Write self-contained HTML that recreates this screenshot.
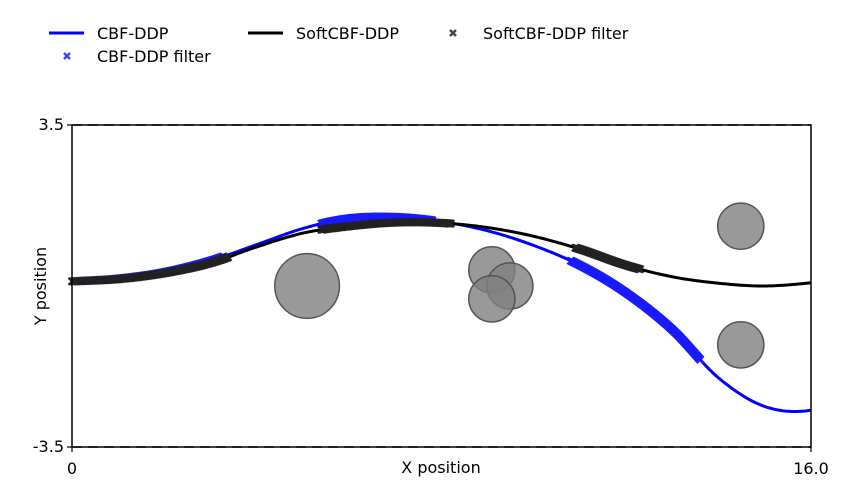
<!DOCTYPE html>
<html><head><meta charset="utf-8"><style>
html,body{margin:0;padding:0;background:#fff;width:849px;height:502px;overflow:hidden}
text{font-family:"DejaVu Sans","Liberation Sans",sans-serif;font-size:16px;fill:#000}
</style></head><body>
<svg id="chart" width="849" height="502" xmlns="http://www.w3.org/2000/svg">
<g>
 <line x1="49" y1="33" x2="84" y2="33" stroke="#0000ff" stroke-width="3"/>
 <text x="97" y="39" font-size="15">CBF-DDP</text>
 <line x1="248" y1="33" x2="283" y2="33" stroke="#000" stroke-width="3"/>
 <text x="296" y="39" font-size="15">SoftCBF-DDP</text>
 <path d="M450,30L456,36M450,36L456,30" stroke="#444" stroke-width="2.5"/>
 <text x="483" y="39" font-size="15.3">SoftCBF-DDP filter</text>
 <path d="M64,53L70,59M64,59L70,53" stroke="#4444ff" stroke-width="2.5"/>
 <text x="97" y="62" font-size="15.3">CBF-DDP filter</text>
</g>
<g id="plot"></g>
</svg>
<script>
const xs=[0,1,2,3,4,5,6,7,8,9,10,11,12,13,14,15,16,17];
const cbfY=[0.1,0.16,0.3,0.55,0.9,1.25,1.47,1.5,1.4,1.2,0.88,0.45,-0.15,-0.95,-2.0,-2.62,-2.7,-2.3];
const softY=[0.1,0.15,0.28,0.5,0.85,1.15,1.3,1.38,1.37,1.27,1.08,0.8,0.45,0.2,0.06,0.0,0.07,0.2];
const cbfFilterRanges=[[0.2,3.3],[5.4,7.8],[10.8,13.6]];
const softFilterRanges=[[0,3.4],[5.4,8.2],[10.9,12.3]];
const obsX=[5.09,9.09,9.48,9.09,14.48,14.48];
const obsY=[0,0.35,0,-0.28,1.3,-1.28];
const obsR=[0.7,0.5,0.5,0.5,0.5,0.5];
const xTicks=[0,16];const xTickLabels=["0","16.0"];
const yTicks=[3.5,-3.5];const yTickLabels=["3.5","-3.5"];
const X0=72,X1=811,Y0=125,Y1=447;
const sx=v=>X0+(v-0)/16*(X1-X0);
const sy=v=>Y1-(v+3.5)/7*(Y1-Y0);
const NS='http://www.w3.org/2000/svg';
const g=document.getElementById('plot');
function mk(t,a,p){const e=document.createElementNS(NS,t);for(const k in a)e.setAttribute(k,a[k]);(p||g).appendChild(e);return e;}
function catmull(ys,x){let i=0;while(i<xs.length-2&&x>xs[i+1])i++;
const t=(x-xs[i])/(xs[i+1]-xs[i]);const p0=ys[i-1]!==undefined?ys[i-1]:2*ys[i]-ys[i+1],p1=ys[i],p2=ys[i+1],p3=ys[i+2]!==undefined?ys[i+2]:2*ys[i+1]-ys[i];
return 0.5*((2*p1)+(-p0+p2)*t+(2*p0-5*p1+4*p2-p3)*t*t+(-p0+3*p1-3*p2+p3)*t*t*t);}
function pathD(ys){let d='';for(let x=0;x<=16.0001;x+=0.05){d+=(d?'L':'M')+sx(x).toFixed(2)+','+sy(catmull(ys,x)).toFixed(2);}return d;}
for(let i=0;i<obsX.length;i++){const c=mk('circle',{cx:sx(obsX[i]),cy:sy(obsY[i]),r:obsR[i]*(X1-X0)/16,fill:'#808080','fill-opacity':0.8,stroke:'#555','stroke-width':1.5});

}
const l1=mk('path',{d:pathD(cbfY),fill:'none',stroke:'#0000ff','stroke-width':3});


const l2=mk('path',{d:pathD(softY),fill:'none',stroke:'#000','stroke-width':3});


function markers(ranges,ys,col,name){const gg=mk('g',{stroke:col,'stroke-width':2.2});


ranges.forEach(r=>{for(let x=r[0];x<=r[1];x+=0.02){const px=sx(x),py=sy(catmull(ys,x));const s=3.5;
mk('path',{d:`M${px-s},${py-s}L${px+s},${py+s}M${px-s},${py+s}L${px+s},${py-s}`},gg);}});}
markers(cbfFilterRanges,cbfY,'#1a1aff','cbf-ddp-filter-markers');
markers(softFilterRanges,softY,'#222','softcbf-ddp-filter-markers');
const ax=mk('rect',{x:X0,y:Y0,width:X1-X0,height:Y1-Y0,fill:'none',stroke:'#000','stroke-width':1.5});


yTicks.forEach((v,i)=>{mk('line',{x1:X0,x2:X1,y1:sy(v),y2:sy(v),stroke:'#000','stroke-width':1.5,'stroke-dasharray':'10,6'});
mk('line',{x1:X0-5,x2:X0,y1:sy(v),y2:sy(v),stroke:'#000','stroke-width':1.2});
const t=mk('text',{x:X0-8,y:sy(v)+5,'text-anchor':'end','font-size':15});t.textContent=yTickLabels[i];

});
xTicks.forEach((v,i)=>{mk('line',{x1:sx(v),x2:sx(v),y1:Y1,y2:Y1+5,stroke:'#000','stroke-width':1.2});
const t=mk('text',{x:sx(v),y:Y1+27,'text-anchor':'middle','font-size':15});t.textContent=xTickLabels[i];

});
const xt=mk('text',{x:441,y:473,'text-anchor':'middle','font-size':15});xt.textContent='X position';


const yt=mk('text',{x:46,y:(Y0+Y1)/2,'text-anchor':'middle','font-size':15,transform:`rotate(-90 46 ${(Y0+Y1)/2})`});yt.textContent='Y position';


</script>
</body></html>
